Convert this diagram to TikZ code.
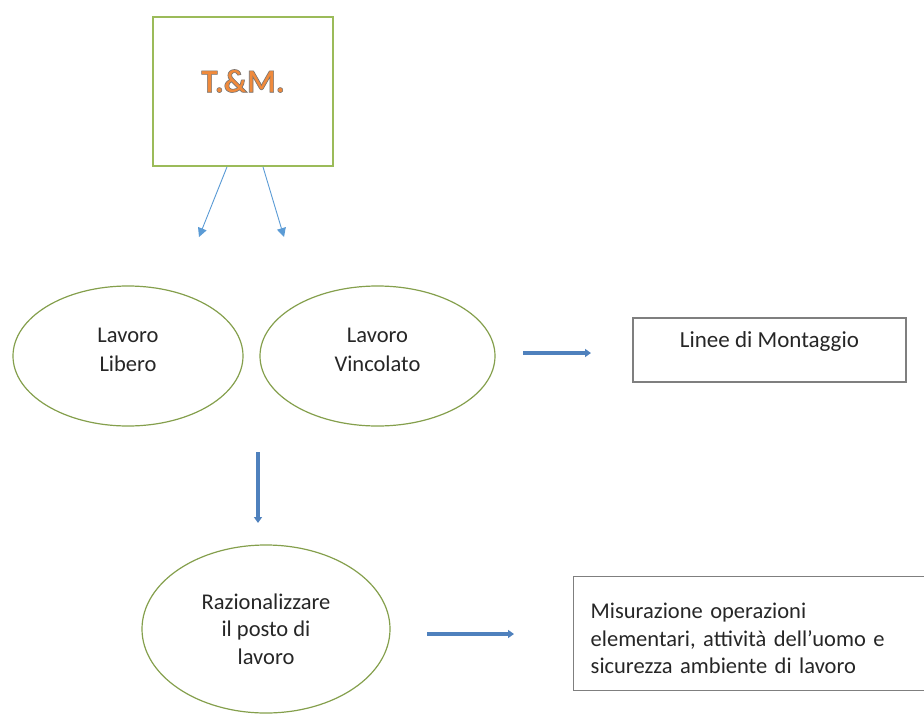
\documentclass[tikz,border=0pt]{standalone}
\usepackage{fontspec}
\setmainfont{Carlito}
\usetikzlibrary{shapes.geometric,arrows.meta,calc}

\definecolor{olive}{HTML}{9BBB59}
\definecolor{lightblue}{HTML}{5B9BD5}
\definecolor{steel}{HTML}{4F81BD}
\definecolor{boxgray}{HTML}{7F7F7F}
\definecolor{tmorange}{HTML}{F08A3C}

% filled letters with a thin grey outline
\newcommand{\outlinedtext}[1]{%
  \special{pdf:literal direct 2 Tr 0.6 w 0.45 0.45 0.45 RG}#1\special{pdf:literal direct 0 Tr}}

\tikzset{
  body/.style={font=\fontsize{22.5}{27.5}\selectfont, text=black!85},
  greenbox/.style={draw=olive, line width=1.8pt, rectangle, minimum width=180pt, minimum height=149pt, inner sep=0pt},
  oval/.style={draw=olive!85!black, line width=1.2pt, ellipse, inner sep=0pt, align=center, body},
  twoline/.style={font=\fontsize{22.5}{29}\selectfont, text height=43.5pt, text depth=13.5pt},
  graybox/.style={draw=boxgray, line width=1.4pt, rectangle, inner sep=0pt, body},
  thinarrow/.style={draw=lightblue, line width=0.9pt, -{Triangle[length=9pt,width=9pt]}},
  fatarrow/.style={draw=steel, line width=4.5pt, -{Triangle[length=6pt,width=8pt]}}
}

\begin{document}
\begin{tikzpicture}[x=1pt, y=-1pt]
  \useasboundingbox (0,0) rectangle (924,715);
  \clip (0,0) rectangle (924,715);

  % top box with its title
  \node[greenbox] (tm) at (243,91.5) {};
  \node[font=\fontsize{33}{36}\selectfont\bfseries, text=tmorange] (tmtitle) at (243,81) {\outlinedtext{T.\&M.}};

  % two branches leaving the box
  \coordinate (leftend) at (199,237);
  \coordinate (rightend) at (284,237);
  \draw[thinarrow] ($(tm.south)+(-16,0)$) -- (leftend);
  \draw[thinarrow] ($(tm.south)+(20,0)$) -- (rightend);

  % kinds of work
  \node[oval, twoline, minimum width=230pt, minimum height=140pt] (libero) at (128,356) {Lavoro\\Libero};
  \node[oval, twoline, minimum width=235pt, minimum height=140pt] (vincolato) at (377.5,356) {Lavoro\\Vincolato};

  % assembly lines
  \coordinate (a1s) at (523,353);
  \coordinate (a1e) at (591,353);
  \draw[fatarrow] (a1s) -- (a1e);
  \node[graybox, minimum width=273pt, minimum height=64pt, text height=14pt, text depth=19pt,
        font=\fontsize{23}{28}\selectfont] (linee) at (769.5,350) {Linee di Montaggio};

  % down to the workplace
  \coordinate (a2s) at (258,452);
  \coordinate (a2e) at (258,523);
  \draw[fatarrow] (a2s) -- (a2e);
  \node[oval, minimum width=248pt, minimum height=168pt] (posto) at (266,629) {Razionalizzare\\il posto di\\lavoro};

  % measurement box, running off the right edge
  \coordinate (a3s) at (427,634);
  \coordinate (a3e) at (514,634);
  \draw[fatarrow] (a3s) -- (a3e);
  \node[graybox, anchor=north west, minimum width=370pt, minimum height=114pt,
        text width=340pt, align=left, inner xsep=17pt, text height=14pt, text depth=44pt]
        (misura) at (573,576)
        {Misurazione operazioni\\elementari, attività dell’uomo e\\sicurezza ambiente di lavoro};
\end{tikzpicture}
\end{document}
